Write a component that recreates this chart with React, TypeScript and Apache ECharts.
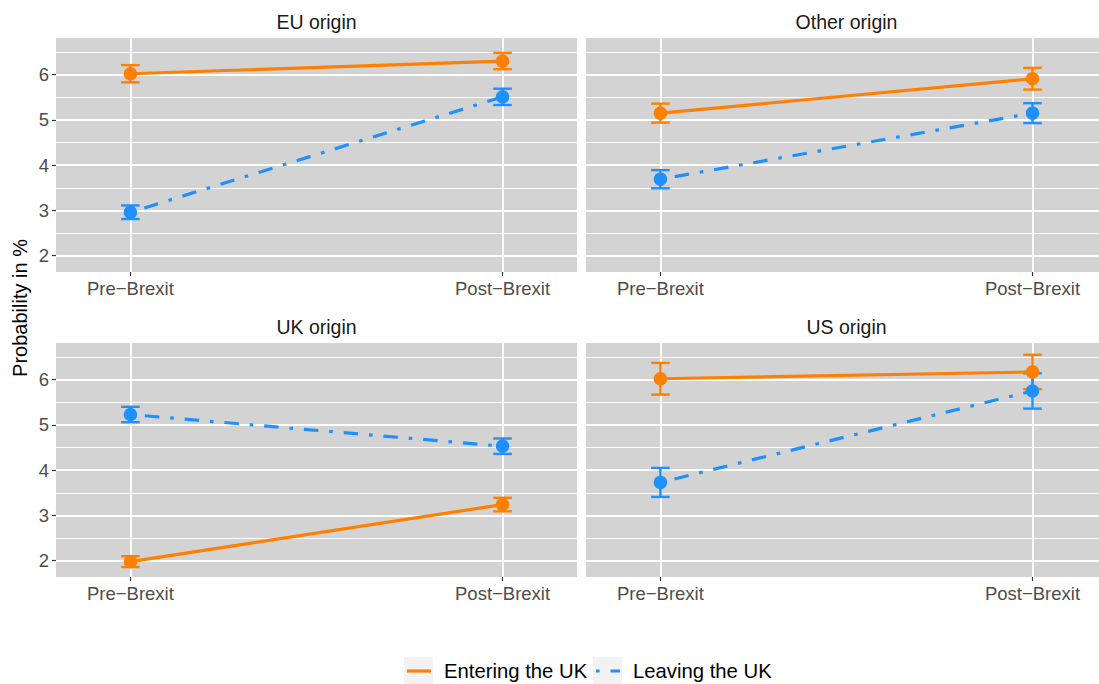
import React, { useEffect, useRef } from "react";
import * as echarts from "echarts";

const origins = ["EU origin", "Other origin", "UK origin", "US origin"];
const periods = ["Pre−Brexit", "Post−Brexit"];
const groups = ["Entering the UK", "Leaving the UK"];
const yTicks = [2, 3, 4, 5, 6];
const yMinor = [2.5, 3.5, 4.5, 5.5, 6.5];

// per origin: [pre, post]
const enteringMean = [[6.02, 6.3], [5.15, 5.91], [1.98, 3.24], [6.02, 6.17]];
const enteringLow = [[5.83, 6.12], [4.94, 5.67], [1.86, 3.09], [5.67, 5.79]];
const enteringHigh = [[6.21, 6.48], [5.36, 6.15], [2.1, 3.39], [6.37, 6.55]];
const leavingMean = [[2.96, 5.51], [3.69, 5.15], [5.23, 4.53], [3.73, 5.75]];
const leavingLow = [[2.81, 5.33], [3.49, 4.93], [5.06, 4.36], [3.41, 5.36]];
const leavingHigh = [[3.11, 5.69], [3.89, 5.37], [5.4, 4.7], [4.05, 6.14]];

const ORANGE = "#FF7F00";
const BLUE = "#1E90FF";
const FONT = "Liberation Sans, Arial, sans-serif";
const DOTDASH = [3.6, 10.9, 14.5, 10.9];

export default function App() {
  const ref = useRef<HTMLDivElement>(null);
  useEffect(() => {
    if (!ref.current) return;
    const chart = echarts.init(ref.current, null, { renderer: "svg" });

    // right column panels are cut by the image edge
    const panels = [
      { left: 56, top: 38, width: 521, xMax: 2.2 },
      { left: 586, top: 38, width: 513, xMax: 2.1787 },
      { left: 56, top: 343, width: 521, xMax: 2.2 },
      { left: 586, top: 343, width: 513, xMax: 2.1787 },
    ];
    const H = 234;

    const grids = panels.map((p) => ({
      left: p.left,
      top: p.top,
      width: p.width,
      height: H,
      show: true,
      backgroundColor: "#D3D3D3",
      borderWidth: 0,
      containLabel: false,
    }));

    const xAxes = panels.map((p, i) => ({
      type: "value",
      gridIndex: i,
      min: 0.8,
      max: p.xMax,
      axisLine: { show: false },
      splitLine: { show: false },
      axisTick: {
        show: true,
        customValues: [1, 2],
        length: 4,
        lineStyle: { color: "#333333", width: 1.2 },
      },
      axisLabel: {
        show: true,
        customValues: [1, 2],
        formatter: (v: number) => periods[Math.round(v) - 1] ?? "",
        color: "#4D4D4D",
        fontSize: 18.5,
        fontFamily: FONT,
        margin: 7,
      },
    }));

    const yAxes = panels.map((_, i) => ({
      type: "value",
      gridIndex: i,
      min: 1.64,
      max: 6.81,
      axisLine: { show: false },
      splitLine: { show: false },
      axisTick: {
        show: i % 2 === 0,
        customValues: yTicks,
        length: 4,
        lineStyle: { color: "#333333", width: 1.2 },
      },
      axisLabel: {
        show: i % 2 === 0,
        customValues: yTicks,
        color: "#4D4D4D",
        fontSize: 18.5,
        fontFamily: FONT,
        margin: 7,
      },
    }));

    const series: any[] = [];
    panels.forEach((_, i) => {
      // gridlines
      series.push({
        type: "line",
        xAxisIndex: i,
        yAxisIndex: i,
        data: [],
        silent: true,
        z: 1,
        markLine: {
          silent: true,
          z: 1,
          symbol: ["none", "none"],
          label: { show: false },
          animation: false,
          data: [
            ...yMinor.map((v) => ({ yAxis: v, lineStyle: { color: "#FFFFFF", width: 0.9, type: "solid" } })),
            ...yTicks.map((v) => ({ yAxis: v, lineStyle: { color: "#FFFFFF", width: 1.8, type: "solid" } })),
            ...[1, 2].map((v) => ({ xAxis: v, lineStyle: { color: "#FFFFFF", width: 1.8, type: "solid" } })),
          ],
        },
      });
      const sets = [
        { name: groups[0], color: ORANGE, mean: enteringMean[i], lo: enteringLow[i], hi: enteringHigh[i], dash: "solid" as any },
        { name: groups[1], color: BLUE, mean: leavingMean[i], lo: leavingLow[i], hi: leavingHigh[i], dash: DOTDASH },
      ];
      sets.forEach((s) => {
        series.push({
          type: "custom",
          name: s.name,
          xAxisIndex: i,
          yAxisIndex: i,
          z: 8,
          silent: true,
          data: [0, 1].map((k) => [k + 1, s.mean[k], s.lo[k], s.hi[k]]),
          encode: { x: 0, y: 1 },
          renderItem: (params: any, api: any) => {
            const x = api.value(0);
            const p1 = api.coord([x, api.value(2)]);
            const p2 = api.coord([x, api.value(3)]);
            const w = 9.3;
            const st = { stroke: s.color, lineWidth: 2.4 };
            return {
              type: "group",
              children: [
                { type: "line", shape: { x1: p1[0], y1: p1[1], x2: p2[0], y2: p2[1] }, style: st },
                { type: "line", shape: { x1: p1[0] - w, y1: p1[1], x2: p1[0] + w, y2: p1[1] }, style: st },
                { type: "line", shape: { x1: p2[0] - w, y1: p2[1], x2: p2[0] + w, y2: p2[1] }, style: st },
              ],
            };
          },
        });
      });
      sets.forEach((s) => {
        series.push({
          type: "line",
          name: s.name,
          xAxisIndex: i,
          yAxisIndex: i,
          z: 10,
          silent: true,
          data: [0, 1].map((k) => [k + 1, s.mean[k]]),
          symbol: "circle",
          symbolSize: 13.5,
          showSymbol: true,
          itemStyle: { color: s.color, borderWidth: 0 },
          lineStyle: { color: s.color, width: 3.2, type: s.dash, cap: "butt" },
        });
      });
    });

    const graphic: any[] = [];
    panels.forEach((p, i) => {
      graphic.push({
        type: "text",
        x: 56 + (i % 2) * 530 + 521 / 2,
        y: p.top - 16,
        style: {
          text: origins[i],
          textAlign: "center",
          textVerticalAlign: "middle",
          fontSize: 19.5,
          fontFamily: FONT,
          fill: "#1A1A1A",
        },
      });
    });
    graphic.push({
      type: "text",
      x: 20,
      y: 308,
      rotation: Math.PI / 2,
      style: {
        text: "Probability in %",
        textAlign: "center",
        textVerticalAlign: "middle",
        fontSize: 20,
        fontFamily: FONT,
        fill: "#000000",
      },
    });
    // legend
    const keys = [
      { x: 404, color: ORANGE, dash: null as any, textX: 444, label: groups[0] },
      { x: 593, color: BLUE, dash: DOTDASH, textX: 633, label: groups[1] },
    ];
    keys.forEach((k) => {
      graphic.push({
        type: "rect",
        shape: { x: k.x, y: 657, width: 29, height: 27 },
        style: { fill: "#F2F2F2" },
      });
      graphic.push({
        type: "line",
        shape: { x1: k.x + 3, y1: 671, x2: k.x + 27, y2: 671 },
        style: { stroke: k.color, lineWidth: 3.2, lineDash: k.dash || undefined },
      });
      graphic.push({
        type: "text",
        x: k.textX,
        y: 671,
        style: {
          text: k.label,
          textAlign: "left",
          textVerticalAlign: "middle",
          fontSize: 20.3,
          fontFamily: FONT,
          fill: "#000000",
        },
      });
    });

    chart.setOption({
      animation: false,
      backgroundColor: "#FFFFFF",
      grid: grids,
      xAxis: xAxes,
      yAxis: yAxes,
      series,
      graphic,
    });
    return () => chart.dispose();
  }, []);

  return (
    <div
      ref={ref}
      style={{ position: "absolute", left: 0, top: 0, width: 1099, height: 684 }}
    />
  );
}
